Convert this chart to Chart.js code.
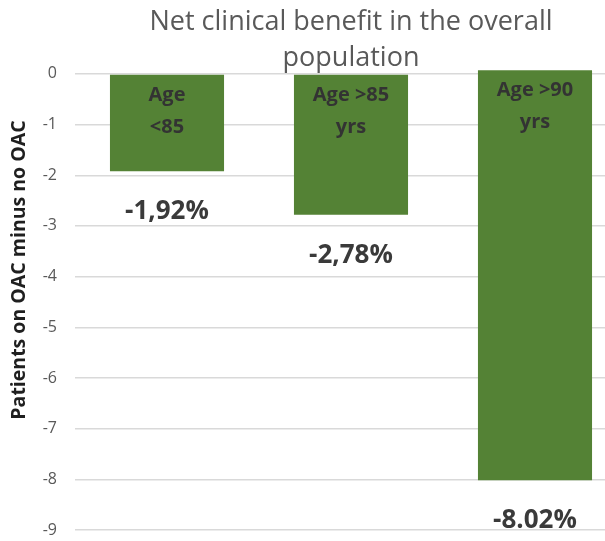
<!DOCTYPE html>
<html>
<head>
<meta charset="utf-8">
<script src="https://cdn.jsdelivr.net/npm/chart.js@4.4.0/dist/chart.umd.min.js"></script>
<style>
  html, body { margin: 0; padding: 0; background: #fff; overflow: hidden; }
  #wrap { width: 605px; height: 541px; overflow: hidden; position: relative; }
  canvas { display: block; }
</style>
</head>
<body>
<div id="wrap">
  <!-- the plot runs on past the right edge, as in the cropped original -->
  <canvas id="benefitChart" width="627" height="541"></canvas>
</div>
<script>
// age groups (shown inside the bars)
const categories = [['Age', '<85'], ['Age >85', 'yrs'], ['Age >90', 'yrs']];
// net clinical benefit, OAC minus no OAC (%)
const barStarts = [0, 0, 0.07];
const netBenefit = [-1.92, -2.78, -8.02];
const valueLabels = ['-1,92%', '-2,78%', '-8.02%'];
const yTitle = 'Patients on OAC minus no OAC';

const green = '#548235';

// writes the group name in the bar, the value under it and the y title
const barText = {
    id: 'barText',
    afterDatasetsDraw(chart) {
        const ctx = chart.ctx;
        const meta = chart.getDatasetMeta(0);
        ctx.save();
        ctx.textAlign = 'center';
        ctx.textBaseline = 'alphabetic';
        meta.data.forEach((bar, i) => {
            const top = Math.min(bar.y, bar.base);
            const bottom = Math.max(bar.y, bar.base);
            ctx.fillStyle = '#333333';
            ctx.font = 'bold 20px "Open Sans"';
            categories[i].forEach((line, j) => {
                ctx.fillText(line, bar.x, top + 26 + j * 32);
            });
            ctx.fillStyle = '#3a3a3a';
            ctx.font = 'bold 26px "Open Sans"';
            ctx.fillText(valueLabels[i], bar.x, bottom + 48);
        });

        // y axis title
        ctx.translate(19, 270);
        ctx.rotate(-Math.PI / 2);
        ctx.textBaseline = 'middle';
        ctx.fillStyle = '#1f1f1f';
        ctx.font = 'bold 19.5px "Open Sans"';
        ctx.fillText(yTitle, 0, 0);
        ctx.restore();
    }
};

const ctx = document.getElementById('benefitChart').getContext('2d');

new Chart(ctx, {
    type: 'bar',
    data: {
        labels: categories.map(c => c.join(' ')),
        datasets: [{
            data: netBenefit.map((v, i) => [barStarts[i], v]),
            backgroundColor: green,
            borderWidth: 0,
            barPercentage: 0.62,
            categoryPercentage: 1,
            clip: false
        }]
    },
    options: {
        responsive: false,
        animation: false,
        layout: {
            padding: { left: 0, right: 0, top: 0, bottom: 11 }
        },
        scales: {
            x: {
                display: false
            },
            y: {
                min: -9,
                max: 0,
                ticks: {
                    stepSize: 1,
                    padding: 18,
                    color: '#595959',
                    font: { family: 'Open Sans', size: 16 }
                },
                grid: {
                    color: '#d9d9d9',
                    lineWidth: 1.5,
                    drawTicks: false
                },
                border: { display: false },
                afterFit(scale) {
                    scale.width = 75;
                    scale.paddingTop = 0;
                    scale.paddingBottom = 0;
                }
            }
        },
        plugins: {
            legend: { display: false },
            tooltip: { enabled: false },
            title: {
                display: true,
                fullSize: false,
                text: ['Net clinical benefit in the overall', 'population'],
                color: '#595959',
                font: { family: 'Open Sans', size: 27, weight: 'normal', lineHeight: 1.35 },
                padding: { top: 4, bottom: -3 }
            }
        }
    },
    plugins: [barText]
});
</script>
</body>
</html>
